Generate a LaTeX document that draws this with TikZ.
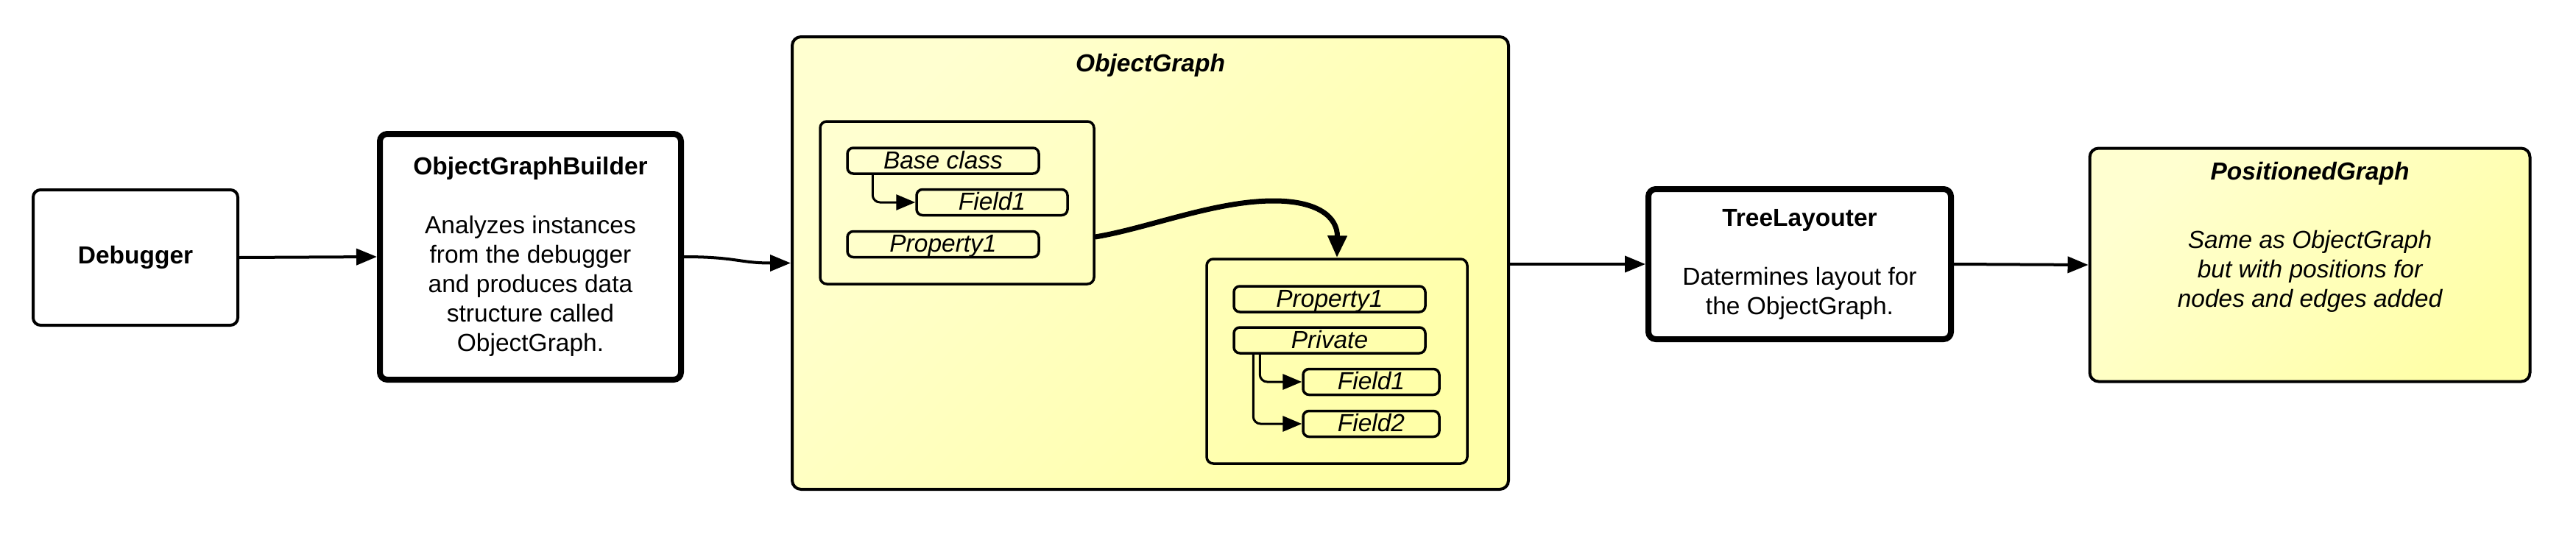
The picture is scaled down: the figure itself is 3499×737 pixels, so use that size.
\documentclass[tikz,border=0pt]{standalone}
\usepackage{fontspec}
\setmainfont{Liberation Sans}
\usetikzlibrary{arrows.meta}
\usetikzlibrary{calc}

\definecolor{graphLight}{HTML}{FFFFD0}
\definecolor{graphDark}{HTML}{FFFFA8}

\newcommand*{\diagramfont}{\fontsize{33.5}{40}\selectfont}

\tikzset{
    box/.style      = {draw, rounded corners = 10pt, align = center, inner sep = 0pt},
    thinbox/.style  = {box, line width = 4pt},
    thickbox/.style = {box, line width = 8pt},
    graphbox/.style = {box, line width = 4pt, rounded corners = 12pt,
                       top color = graphLight, bottom color = graphDark, shading angle = 45},
    holder/.style   = {draw, rounded corners = 9pt, line width = 3.5pt, inner sep = 0pt},
    member/.style   = {draw, rounded corners = 8pt, line width = 3.5pt, inner sep = 0pt,
                       minimum height = 35pt, text height = 25pt, text depth = 4pt,
                       font = \diagramfont\itshape},
    flow/.style     = {line width = 4pt, -{Triangle[length = 28pt, width = 22pt]}},
    link/.style     = {line width = 3pt, rounded corners = 10pt, -{Triangle[length = 26pt, width = 21pt]}},
}

\begin{document}
\begin{tikzpicture}[x = 1pt, y = -1pt, font = \diagramfont]

\useasboundingbox (0,0) rectangle (3499,737);

% pipeline stages
\node[thinbox, minimum width = 278pt, minimum height = 184pt] (debugger) at (184,350) {\textbf{Debugger}};

\node[thickbox, minimum width = 409pt, minimum height = 334pt] (builder) at (720.5,349)
    {\textbf{ObjectGraphBuilder}\\[40pt]
     Analyzes instances\\ from the debugger\\ and produces data\\ structure called\\ ObjectGraph.};

\node[graphbox, minimum width = 973pt, minimum height = 615pt] (graph) at (1562.5,357.5) {};
\node (graphtitle) at (1562.5,89) {\textbf{\textit{ObjectGraph}}};

\node[thickbox, minimum width = 411pt, minimum height = 204pt] (layouter) at (2444.5,359)
    {\textbf{TreeLayouter}\\[40pt]
     Datermines layout for\\ the ObjectGraph.};

\node[graphbox, minimum width = 598pt, minimum height = 317pt] (positioned) at (3137.5,360) {};
\node (positionedtitle) at (3137.5,236) {\textbf{\textit{PositionedGraph}}};
\node[align = center, font = \diagramfont\itshape] (positionedtext) at (3137.5,369)
    {Same as ObjectGraph\\ but with positions for\\ nodes and edges added};

% inside the object graph
\node[holder, minimum width = 372pt, minimum height = 221pt] (baseholder) at (1300,275.5) {};
\node[holder, minimum width = 354pt, minimum height = 278pt] (privateholder) at (1816,491) {};

\foreach \NAME/\LABEL/\X/\Y/\W in {
                        baseclass/Base class/1281/218.5/260,
                        basefield/Field1/1347.5/275/205,
                        baseprop/Property1/1281/332/260,
                        prop/Property1/1806/406.5/260,
                        private/Private/1806/462.5/260,
                        fieldone/Field1/1862.5/519/185,
                        fieldtwo/Field2/1862.5/576/185}{
    \node[member, minimum width = \W pt] (\NAME) at (\X,\Y) {\LABEL};
    };

\draw[link] ([xshift = 36pt]baseclass.south west) |- (basefield.west);
\draw[link] ([xshift = 37pt]private.south west) |- (fieldone.west);
\draw[link] ([xshift = 28pt]private.south west) |- (fieldtwo.west);

\draw[line width = 7pt, -{Triangle[length = 30pt, width = 25pt]}]
    ([yshift = -46.5pt]baseholder.east) .. controls (1560,310) and (1650,273) .. (1730,273)
    .. controls (1790,273) and (1817,295) .. (privateholder.north);

% connectors between stages
\draw[flow] (debugger.east) -- (builder.west);
\draw[flow] (builder.east) .. controls +(70,0) and +(-70,0) .. (graph.west);
\draw[flow] (layouter.west -| graph.east) -- (layouter.west);
\draw[flow] (layouter.east) -- (positioned.west);

\end{tikzpicture}
\end{document}
